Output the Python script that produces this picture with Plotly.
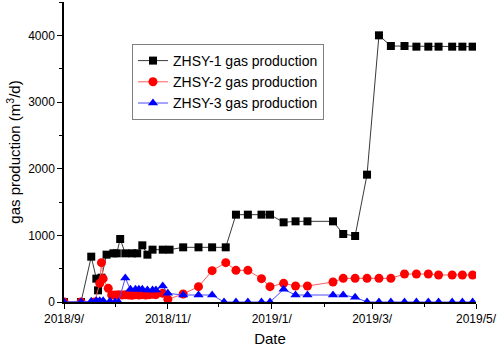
import plotly.graph_objects as go

# ---- data ----
dates1 = ["2018-09-01", "2018-09-11", "2018-09-17", "2018-09-20", "2018-09-21", "2018-09-23",
          "2018-09-26", "2018-09-30", "2018-10-02", "2018-10-04", "2018-10-07", "2018-10-11",
          "2018-10-14", "2018-10-17", "2018-10-20", "2018-10-23", "2018-10-29", "2018-11-02",
          "2018-11-10", "2018-11-19", "2018-11-27", "2018-12-05", "2018-12-11", "2018-12-18",
          "2018-12-26", "2018-12-31", "2019-01-08", "2019-01-15", "2019-01-22", "2019-02-06",
          "2019-02-12", "2019-02-19", "2019-02-26", "2019-03-05", "2019-03-12", "2019-03-20",
          "2019-03-27", "2019-04-03", "2019-04-09", "2019-04-17", "2019-04-23", "2019-04-29"]
gas1 = [0, 0, 680, 350, 175, 365,
        710, 730, 730, 945, 730, 730,
        730, 850, 710, 785, 785, 785,
        820, 820, 820, 820, 1310, 1310,
        1310, 1310, 1195, 1210, 1210, 1210,
        1020, 990, 1910, 4000, 3840, 3840,
        3830, 3830, 3830, 3830, 3830, 3830]

dates2 = ["2018-09-01", "2018-09-11", "2018-09-19", "2018-09-22", "2018-09-23", "2018-09-24",
          "2018-09-27", "2018-09-29", "2018-10-01", "2018-10-03", "2018-10-05", "2018-10-07",
          "2018-10-09", "2018-10-11", "2018-10-13", "2018-10-15", "2018-10-17", "2018-10-19",
          "2018-10-21", "2018-10-23", "2018-10-25", "2018-10-29", "2018-11-01", "2018-11-10",
          "2018-11-19", "2018-11-27", "2018-12-05", "2018-12-11", "2018-12-18", "2018-12-26",
          "2018-12-31", "2019-01-08", "2019-01-15", "2019-01-22", "2019-02-06", "2019-02-12",
          "2019-02-19", "2019-02-26", "2019-03-05", "2019-03-12", "2019-03-20", "2019-03-27",
          "2019-04-03", "2019-04-09", "2019-04-17", "2019-04-23", "2019-04-29"]
gas2 = [0, 0, 0, 280, 590, 350,
        205, 105, 105, 110, 105, 110,
        105, 100, 110, 105, 110, 105,
        110, 115, 110, 130, 40, 120,
        230, 470, 590, 475, 475, 350,
        230, 280, 240, 240, 300, 355,
        355, 355, 355, 355, 420, 420,
        420, 405, 405, 405, 405]

dates3 = ["2018-09-01", "2018-09-11", "2018-09-17", "2018-09-20", "2018-09-22", "2018-09-24",
          "2018-09-28", "2018-10-01", "2018-10-03", "2018-10-07", "2018-10-10", "2018-10-13",
          "2018-10-15", "2018-10-17", "2018-10-20", "2018-10-23", "2018-10-25", "2018-10-29",
          "2018-11-01", "2018-11-10", "2018-11-19", "2018-11-27", "2018-12-04", "2018-12-11",
          "2018-12-18", "2018-12-26", "2018-12-31", "2019-01-08", "2019-01-15", "2019-01-22",
          "2019-02-06", "2019-02-12", "2019-02-19", "2019-02-26", "2019-03-05", "2019-03-12",
          "2019-03-20", "2019-03-27", "2019-04-03", "2019-04-09", "2019-04-17", "2019-04-23",
          "2019-04-29"]
gas3 = [0, 0, 10, 20, 20, 20,
        10, 0, 0, 360, 190, 190,
        190, 190, 180, 180, 180, 240,
        130, 105, 105, 105, 0, 0,
        0, 0, 0, 190, 105, 105,
        105, 105, 70, 0, 0, 0,
        0, 0, 0, 0, 0, 0,
        0]

names = ["ZHSY-1 gas production", "ZHSY-2 gas production", "ZHSY-3 gas production"]

major_tick_vals = ["2018-09-01", "2018-11-01", "2019-01-01", "2019-03-01", "2019-05-01"]
major_tick_text = ["2018/9/", "2018/11/", "2019/1/", "2019/3/", "2019/5/"]
minor_tick_vals = ["2018-10-01", "2018-12-01", "2019-02-01", "2019-04-01"]
y_tick_vals = [0, 1000, 2000, 3000, 4000]

FONT = "Liberation Sans, Arial, sans-serif"

fig = go.Figure()
fig.add_trace(go.Scatter(x=dates1, y=gas1, name=names[0], mode="lines+markers",
                         line=dict(color="#3a3a3a", width=1),
                         marker=dict(symbol="square", size=8, color="black")))
fig.add_trace(go.Scatter(x=dates2, y=gas2, name=names[1], mode="lines+markers",
                         line=dict(color="#ff5a5a", width=1),
                         marker=dict(symbol="circle", size=9, color="#ff0000")))
fig.add_trace(go.Scatter(x=dates3, y=gas3, name=names[2], mode="lines+markers",
                         line=dict(color="#4a4aff", width=1),
                         marker=dict(symbol="triangle-up", size=9, color="#0000ff")))

fig.update_layout(
    width=498, height=348,
    margin=dict(l=64, r=22, t=2, b=46),
    paper_bgcolor="white", plot_bgcolor="white",
    font=dict(family=FONT, color="black", size=12),
    showlegend=True,
    legend=dict(x=0.165, y=0.86, xanchor="left", yanchor="top",
                bgcolor="white", bordercolor="#808080", borderwidth=1,
                font=dict(size=14, family=FONT), tracegroupgap=0,
                itemwidth=30),
    xaxis=dict(type="date", range=["2018-09-01", "2019-05-01"], automargin=False,
               tickmode="array", tickvals=major_tick_vals, ticktext=major_tick_text,
               ticks="outside", ticklen=5, tickwidth=1, tickcolor="black",
               showline=True, linecolor="black", linewidth=1.5,
               showgrid=False, zeroline=False,
               tickfont=dict(size=12, family=FONT),
               minor=dict(tickvals=minor_tick_vals, ticks="outside", ticklen=3,
                          tickcolor="black", showgrid=False),
               title=dict(text="Date", font=dict(size=15, family=FONT), standoff=8)),
    yaxis=dict(range=[0, 4500], tickmode="array", tickvals=y_tick_vals, automargin=False,
               ticks="outside", ticklen=5, tickwidth=1, tickcolor="black",
               showline=True, linecolor="black", linewidth=1.5,
               showgrid=False, zeroline=False,
               tickfont=dict(size=12, family=FONT),
               minor=dict(dtick=500, tick0=0, ticks="outside", ticklen=3,
                          tickcolor="black", showgrid=False),
               title=dict(text="gas production (m<sup>3</sup>/d)",
                          font=dict(size=15, family=FONT), standoff=4)),
)

fig.write_html("out.html", config={"displayModeBar": False},
               post_script="document.body.style.margin='0';document.body.style.overflow='hidden';")
